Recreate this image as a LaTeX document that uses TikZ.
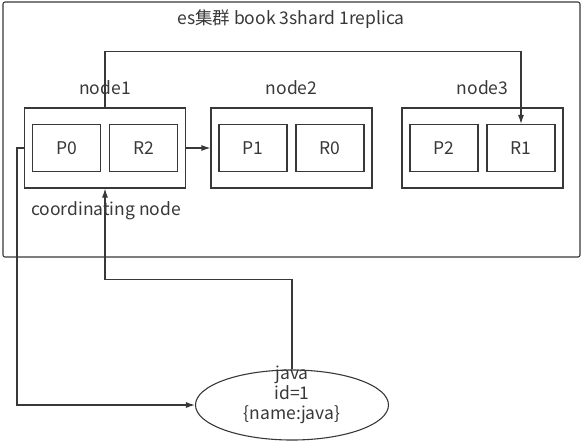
\documentclass[tikz,border=0pt]{standalone}
\usepackage{fontspec}
\setmainfont{Noto Sans CJK SC}
\usetikzlibrary{arrows.meta,shapes.geometric,positioning}
\begin{document}
\begin{tikzpicture}[x=1pt, y=-1pt, >={Latex[length=9pt,width=6pt]}, line width=1.1pt, color=black!78,
 font=\fontsize{17.5}{20}\selectfont,
 khung/.style={draw, minimum width=161pt, minimum height=80pt, inner sep=0pt},
 manh/.style={draw, minimum width=68pt, minimum height=47pt, inner sep=0pt}]
\useasboundingbox (0,0) rectangle (583,440);
% Cụm es
\node[draw, rounded corners=2pt, minimum width=577pt, minimum height=255pt, inner sep=0pt] (cum) at (291.5,129.5) {};
\node (tieude) at (291,19) {es集群 book 3shard 1replica};
% 3 node, mỗi node 2 shard
\foreach \ten/\x/\a/\b in {1/105/P0/R2, 2/291.5/P1/R0, 3/482.5/P2/R1}{
\node[khung] (n\ten) at (\x,148) {};
\node (t\ten) at (\x,88) {node\ten};
\node[manh] (l\ten) at (\x-38.5,148) {\a};
\node[manh] (r\ten) at (\x+38.5,148) {\b};
}
\node (coord) at (106,211) {coordinating node};
% Client java
\node[draw, ellipse, minimum width=193pt, minimum height=70pt] (java) at (292,405) {};
\node[align=center, inner sep=0pt, font=\fontsize{17.5}{20}\selectfont] (jtext) at (292,395) {java\\id=1\\\{name:java\}};
% Các mũi tên
\draw[->] (n1.east) -- (n2.west);
\draw[->] (n1.north) -- ++(0,-56) -| (r3.north);
\draw[->] (n1.west) -- ++(-7,0) |- (java.west);
\draw[->] (java.north) -- ++(0,-90) -| (n1.south);
\end{tikzpicture}
\end{document}
